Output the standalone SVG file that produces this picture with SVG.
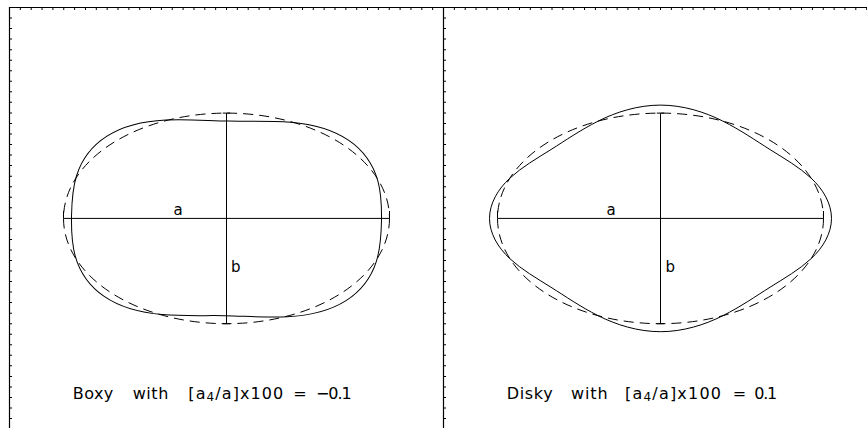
<svg xmlns="http://www.w3.org/2000/svg" width="867" height="428" viewBox="0 0 867 428">
<style>
.ln{fill:none;stroke:#000;stroke-width:1}
.fr{fill:none;stroke:#000;stroke-width:1.2}
.dash{fill:none;stroke:#000;stroke-width:1;stroke-dasharray:10 6}
.tk{fill:none;stroke:#000;stroke-width:2}
.lab{font-family:"DejaVu Sans","Liberation Sans",sans-serif;font-size:15px;fill:#000}
.cap{font-family:"DejaVu Sans","Liberation Sans",sans-serif;font-size:16px;fill:#000}
</style>
<rect width="867" height="428" fill="#fff"/>
<g id="frame">
<path class="fr" d="M9.5,428 V7.5 H867 M443.5,7.5 V428"/>
<path class="tk" d="M19.85,9 H867" style="stroke-dasharray:1 9.85"/>
<path class="tk" d="M11,17.54 V428" style="stroke-dasharray:1 9.54"/>
<path class="tk" d="M445,17.54 V428" style="stroke-dasharray:1 9.54"/>
</g>
<g id="boxy">
<ellipse class="dash" cx="226.5" cy="218.4" rx="163" ry="105.3"/>
<path class="ln" transform="translate(226.5,218.4) rotate(1)" d="M155,0 C155,-12.74 154.89,-25.96 150.59,-40.3 C146.3,-54.64 136.75,-69.63 120.92,-80.12 C105.09,-90.61 83.7,-95.88 62.38,-97.28 C41.06,-98.68 20.29,-97.3 0,-97.3 C-20.29,-97.3 -41.06,-98.68 -62.38,-97.28 C-83.7,-95.88 -105.09,-90.61 -120.92,-80.12 C-136.75,-69.63 -146.3,-54.64 -150.59,-40.3 C-154.89,-25.96 -155,-12.74 -155,0 C-155,12.74 -154.89,25.96 -150.59,40.3 C-146.3,54.64 -136.75,69.63 -120.92,80.12 C-105.09,90.61 -83.7,95.88 -62.38,97.28 C-41.06,98.68 -20.29,97.3 0,97.3 C20.29,97.3 41.06,98.68 62.38,97.28 C83.7,95.88 105.09,90.61 120.92,80.12 C136.75,69.63 146.3,54.64 150.59,40.3 C154.89,25.96 155,12.74 155,0 Z"/>
<path class="ln" d="M63.5,218.4 H389.5 M63.5,211 V218.4 M389.5,211 V218.4 M226.5,113.1 V323.7 M222.8,323.7 H230.2 M222.8,113.1 H230.2"/>
<text class="lab" x="178" y="215" text-anchor="middle">a</text>
<text class="lab" x="231" y="272.3">b</text>
<text class="cap" x="72.7" y="399" textLength="40.6">Boxy</text>
<text class="cap" x="132.7" y="399" textLength="35.6">with</text>
<text class="cap" x="188.3" y="399" textLength="95">[a<tspan font-size="12" dy="2">4</tspan><tspan dy="-2">/a]x100</tspan></text>
<text class="cap" x="293.3" y="399" textLength="10.7">=</text>
<text class="cap" x="316" y="399" textLength="35.7">−0.1</text>
</g>
<g id="disky">
<ellipse class="dash" cx="660.5" cy="218.4" rx="163" ry="105.3"/>
<path class="ln" transform="translate(660.5,218.4)" d="M171,0 C171,-14.83 162.63,-29.17 150.59,-40.3 C138.56,-51.43 123.95,-59.79 109.6,-68.8 C95.25,-77.81 80.49,-88.14 62.38,-97.28 C44.27,-106.43 22.38,-113.3 0,-113.3 C-22.38,-113.3 -44.27,-106.43 -62.38,-97.28 C-80.49,-88.14 -95.25,-77.81 -109.6,-68.8 C-123.95,-59.79 -138.56,-51.43 -150.59,-40.3 C-162.63,-29.17 -171,-14.83 -171,0 C-171,14.83 -162.63,29.17 -150.59,40.3 C-138.56,51.43 -123.95,59.79 -109.6,68.8 C-95.25,77.81 -80.49,88.14 -62.38,97.28 C-44.27,106.43 -22.38,113.3 0,113.3 C22.38,113.3 44.27,106.43 62.38,97.28 C80.49,88.14 95.25,77.81 109.6,68.8 C123.95,59.79 138.56,51.43 150.59,40.3 C162.63,29.17 171,14.83 171,0 Z"/>
<path class="ln" d="M497.5,218.4 H823.5 M497.5,211 V218.4 M823.5,211 V218.4 M660.5,113.1 V323.7 M656.8,323.7 H664.2 M656.8,113.1 H664.2"/>
<text class="lab" x="611" y="215" text-anchor="middle">a</text>
<text class="lab" x="665.5" y="272.3">b</text>
<text class="cap" x="506.7" y="399" textLength="46">Disky</text>
<text class="cap" x="571" y="399" textLength="36.7">with</text>
<text class="cap" x="625" y="399" textLength="96">[a<tspan font-size="12" dy="2">4</tspan><tspan dy="-2">/a]x100</tspan></text>
<text class="cap" x="732.7" y="399" textLength="10.7">=</text>
<text class="cap" x="754.3" y="399" textLength="23">0.1</text>
</g>
</svg>
